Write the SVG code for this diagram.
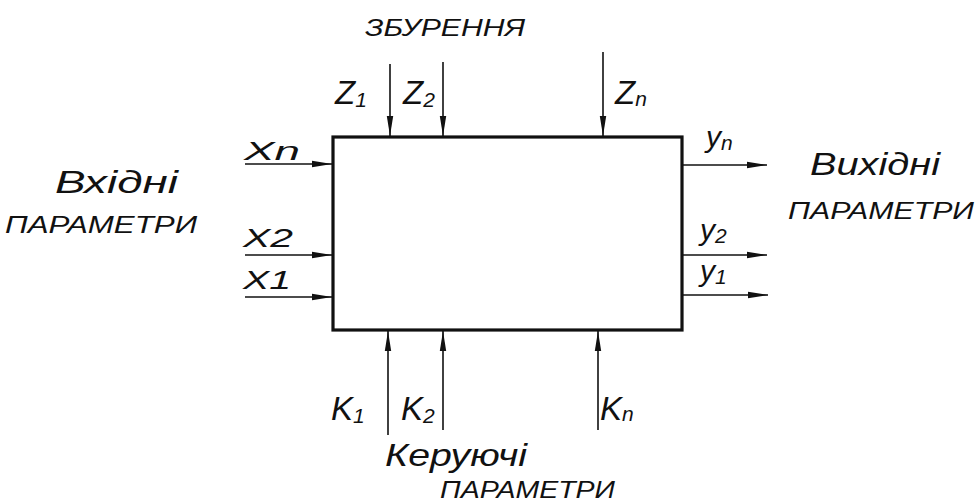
<svg xmlns="http://www.w3.org/2000/svg" width="976" height="504" viewBox="0 0 976 504">
<defs>
<marker id="ah" viewBox="0 0 20 8" refX="20" refY="4" markerWidth="20" markerHeight="8" markerUnits="userSpaceOnUse" orient="auto">
<path d="M0,0.8 L20,4 L0,7.2 Z" fill="#111"/>
</marker>
<style>
.t{font-family:"Liberation Sans","DejaVu Sans",sans-serif;font-style:italic;fill:#111}
.big{font-size:32px}
.cap{font-size:24px}
.lab{font-size:33px}
.labx{font-size:25px}
.laby{font-size:30px}
.sub{font-size:21px}
.c{stroke:#111;stroke-width:1.6;fill:none;marker-end:url(#ah)}
</style>
</defs>
<rect width="976" height="504" fill="#fff"/>
<g id="system">
<rect x="333" y="137" width="349" height="193" fill="none" stroke="#111" stroke-width="3.2"/>
</g>
<g id="connectors">
<line class="c" x1="390" y1="64" x2="390" y2="136"/>
<line class="c" x1="443" y1="62" x2="443" y2="136"/>
<line class="c" x1="603" y1="52" x2="603" y2="136"/>
<line class="c" x1="245" y1="164" x2="332" y2="164"/>
<line class="c" x1="245" y1="255" x2="332" y2="255"/>
<line class="c" x1="245" y1="297" x2="332" y2="297"/>
<line class="c" x1="683" y1="165" x2="767" y2="165"/>
<line class="c" x1="683" y1="255" x2="767" y2="255"/>
<line class="c" x1="683" y1="295" x2="768" y2="295"/>
<line class="c" x1="388" y1="435" x2="388" y2="331"/>
<line class="c" x1="443" y1="430" x2="443" y2="331"/>
<line class="c" x1="598" y1="430" x2="598" y2="331"/>
</g>
<g id="disturbances">
<text class="t cap" x="365" y="36" textLength="160" lengthAdjust="spacingAndGlyphs">ЗБУРЕННЯ</text>
<text class="t lab" x="335" y="104">Z<tspan class="sub" dy="3">1</tspan></text>
<text class="t lab" x="403" y="104">Z<tspan class="sub" dy="3">2</tspan></text>
<text class="t lab" x="615" y="104">Z<tspan class="sub" dy="2">n</tspan></text>
</g>
<g id="inputs">
<text class="t big" x="55" y="193" textLength="123" lengthAdjust="spacingAndGlyphs">Вхідні</text>
<text class="t cap" x="5" y="233" textLength="192" lengthAdjust="spacingAndGlyphs">ПАРАМЕТРИ</text>
<text class="t labx" x="244" y="160" textLength="56" lengthAdjust="spacingAndGlyphs">Xn</text>
<text class="t labx" x="243" y="247" textLength="50" lengthAdjust="spacingAndGlyphs">X2</text>
<text class="t labx" x="243" y="289" textLength="48" lengthAdjust="spacingAndGlyphs">X1</text>
</g>
<g id="outputs">
<text class="t big" x="810" y="175" textLength="130" lengthAdjust="spacingAndGlyphs">Вихідні</text>
<text class="t cap" x="788" y="219" textLength="186" lengthAdjust="spacingAndGlyphs">ПАРАМЕТРИ</text>
<text class="t laby" x="706" y="147">y<tspan class="sub" dy="3">n</tspan></text>
<text class="t laby" x="700" y="240">y<tspan class="sub" dy="3">2</tspan></text>
<text class="t laby" x="700" y="281">y<tspan class="sub" dy="3">1</tspan></text>
</g>
<g id="controls">
<text class="t lab" x="331" y="420">K<tspan class="sub" dy="3">1</tspan></text>
<text class="t lab" x="401" y="420">K<tspan class="sub" dy="3">2</tspan></text>
<text class="t lab" x="600" y="420">K<tspan class="sub" dy="1">n</tspan></text>
<text class="t big" x="385" y="466" textLength="142" lengthAdjust="spacingAndGlyphs">Керуючі</text>
<text class="t cap" x="440" y="498" textLength="175" lengthAdjust="spacingAndGlyphs">ПАРАМЕТРИ</text>
</g>
</svg>
